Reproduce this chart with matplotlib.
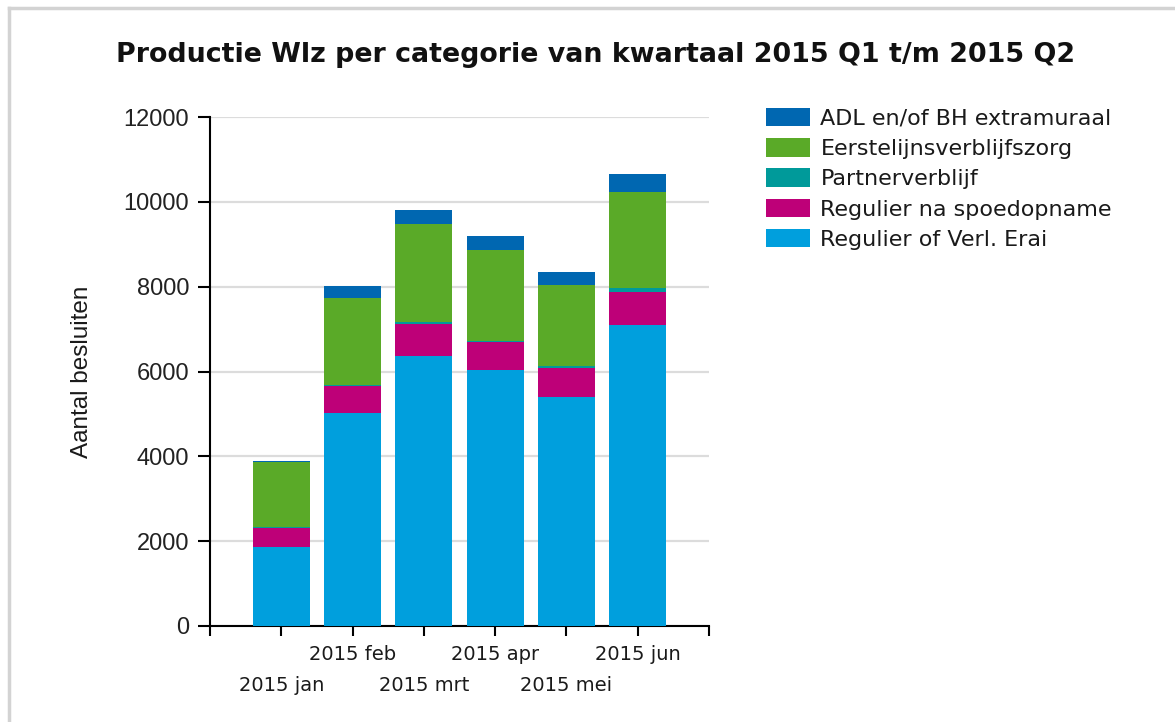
import matplotlib.pyplot as plt
import numpy as np
from matplotlib.patches import Patch
from matplotlib.lines import Line2D

months = ["2015 jan", "2015 feb", "2015 mrt", "2015 apr", "2015 mei", "2015 jun"]

# stacked from bottom to top
regulierVerl = [1870, 5030, 6360, 6030, 5410, 7100]
regulierSpoed = [430, 620, 750, 660, 670, 765]
partner = [30, 40, 55, 30, 45, 95]
eerstelijns = [1530, 2035, 2305, 2140, 1925, 2265]
adl = [40, 290, 335, 330, 285, 430]

seriesNames = ["Regulier of Verl. Erai", "Regulier na spoedopname", "Partnerverblijf",
               "Eerstelijnsverblijfszorg", "ADL en/of BH extramuraal"]
seriesValues = [regulierVerl, regulierSpoed, partner, eerstelijns, adl]
seriesColors = ["#009fdd", "#be0078", "#009a9a", "#5aaa28", "#0067b1"]

fig = plt.figure(figsize=(11.75, 7.22), dpi=100)
ax = fig.add_axes([210 / 1175, 96 / 722, 499 / 1175, 509 / 722])

x = np.arange(len(months))
bottom = np.zeros(len(months))
for name, vals, col in zip(seriesNames, seriesValues, seriesColors):
  ax.bar(x, vals, width=0.8, bottom=bottom, color=col, label=name, zorder=3)
  bottom = bottom + np.array(vals)

ax.set_xlim(-1, 6)
ax.set_ylim(0, 12000)
ax.set_yticks(range(0, 12001, 2000))
ax.yaxis.grid(True, color="#dcdcdc", linewidth=1.6, zorder=0)
ax.tick_params(axis="y", labelsize=17, length=9, width=1.5, pad=6)
for lbl in ax.get_yticklabels():
  lbl.set_family("Liberation Sans")
  lbl.set_color("#222222")

ax.set_xticks(range(-1, 7))
ax.set_xticklabels([""] + months + [""], fontsize=14, family="DejaVu Sans", color="#1a1a1a")
ax.tick_params(axis="x", length=7, width=1.5, pad=7)
for i, lbl in enumerate(ax.get_xticklabels()):
  if i % 2 == 1:
    lbl.set_y(-0.061)

for s in ["top", "right"]:
  ax.spines[s].set_visible(False)
ax.spines["left"].set_linewidth(1.5)
ax.spines["bottom"].set_linewidth(1.5)

ax.set_ylabel("Aantal besluiten", fontsize=17.5, family="Liberation Sans", labelpad=22, color="#1a1a1a")

fig.text(0.507, 0.924, "Productie Wlz per categorie van kwartaal 2015 Q1 t/m 2015 Q2",
         ha="center", va="center", fontsize=19.4, fontweight="bold", color="#111111")

handles = [Patch(facecolor=c) for c in seriesColors][::-1]
leg = fig.legend(handles, seriesNames[::-1], loc="upper left", bbox_to_anchor=(766 / 1175, 1 - 108 / 722),
                 frameon=False, fontsize=16, handlelength=2.0, handleheight=0.9, labelspacing=0.42,
                 handletextpad=0.45, borderaxespad=0, borderpad=0)
for t in leg.get_texts():
  t.set_color("#1a1a1a")

# light grey frame at top and left
fig.add_artist(Line2D([9 / 1175, 1], [1 - 8 / 722, 1 - 8 / 722], color="#d3d3d3", linewidth=2.5))
fig.add_artist(Line2D([9 / 1175, 9 / 1175], [0, 1 - 8 / 722], color="#d3d3d3", linewidth=2.5))

fig.savefig("out.png")
